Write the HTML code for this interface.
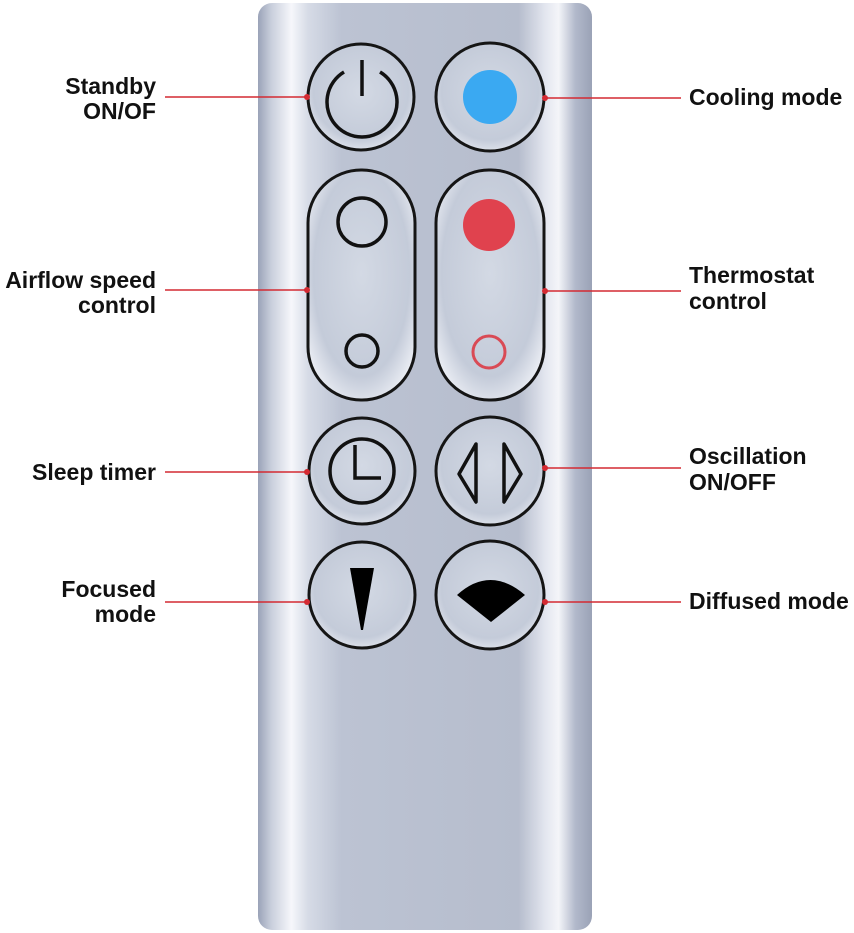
<!DOCTYPE html>
<html><head><meta charset="utf-8"><style>
html,body{margin:0;padding:0;background:#fff;}
svg{display:block}
text{font-family:"Liberation Sans",sans-serif;font-weight:bold;font-size:23px;fill:#111;}
</style></head><body>
<svg width="854" height="933" viewBox="0 0 854 933" xmlns="http://www.w3.org/2000/svg">
<defs>
<linearGradient id="body" x1="0" x2="1" y1="0" y2="0">
<stop offset="0" stop-color="#9aa3b8"/>
<stop offset="0.04" stop-color="#c9cfdc"/>
<stop offset="0.1" stop-color="#f6f7fb"/>
<stop offset="0.15" stop-color="#d6dbe6"/>
<stop offset="0.25" stop-color="#bcc3d3"/>
<stop offset="0.5" stop-color="#b9c0d0"/>
<stop offset="0.78" stop-color="#b6bdcd"/>
<stop offset="0.86" stop-color="#e3e6ef"/>
<stop offset="0.9" stop-color="#f4f5f9"/>
<stop offset="0.95" stop-color="#b2b9cb"/>
<stop offset="1" stop-color="#9aa2b6"/>
</linearGradient>
<radialGradient id="btn" cx="0.5" cy="0.45" r="0.6">
<stop offset="0" stop-color="#d3d9e4"/>
<stop offset="0.75" stop-color="#c4cbd9"/>
<stop offset="1" stop-color="#e8ebf2"/>
</radialGradient>
</defs>
<rect x="258" y="3" width="334" height="927" rx="14" fill="url(#body)"/>
<g stroke="#151515" stroke-width="3" fill="url(#btn)">
<circle cx="361" cy="97" r="53"/>
<circle cx="490" cy="97" r="54"/>
<rect x="308" y="170" width="107" height="230" rx="53"/>
<rect x="436" y="170" width="108" height="230" rx="53"/>
<circle cx="362" cy="471" r="53"/>
<circle cx="490" cy="471" r="54"/>
<circle cx="362" cy="595" r="53"/>
<circle cx="490" cy="595" r="54"/>
</g>
<g fill="none" stroke="#111" stroke-width="3.5">
<path d="M344 72 A35 35 0 1 0 380 72"/>
<line x1="362" y1="60" x2="362" y2="96"/>
<circle cx="362" cy="222" r="24"/>
<circle cx="362" cy="351" r="16"/>
<circle cx="362" cy="471" r="32"/>
<polyline points="355,445 355,478 381,478"/>
<path d="M476 444 L459 474 L476 502 Z" stroke-linejoin="round"/>
<path d="M504 444 L521 474 L504 502 Z" stroke-linejoin="round"/>
</g>
<circle cx="490" cy="97" r="27" fill="#3aa9f2"/>
<circle cx="489" cy="225" r="26" fill="#e0424e"/>
<circle cx="489" cy="352" r="16" fill="none" stroke="#d94a55" stroke-width="3"/>
<polygon points="350,568 374,568 363,630 361,630" fill="#000"/>
<path d="M457 595 Q490 565 525 595 L491 622 Z" fill="#000"/>
<g stroke="#d42a32" stroke-width="1.6">
<line x1="165" y1="97" x2="307" y2="97"/>
<line x1="165" y1="290" x2="307" y2="290"/>
<line x1="165" y1="472" x2="307" y2="472"/>
<line x1="165" y1="602" x2="307" y2="602"/>
<line x1="545" y1="98" x2="681" y2="98"/>
<line x1="545" y1="291" x2="681" y2="291"/>
<line x1="545" y1="468" x2="681" y2="468"/>
<line x1="545" y1="602" x2="681" y2="602"/>
</g>
<g fill="#d42a32">
<circle cx="307" cy="97" r="3"/><circle cx="307" cy="290" r="3"/>
<circle cx="307" cy="472" r="3"/><circle cx="307" cy="602" r="3"/>
<circle cx="545" cy="98" r="3"/><circle cx="545" cy="291" r="3"/>
<circle cx="545" cy="468" r="3"/><circle cx="545" cy="602" r="3"/>
</g>
<g text-anchor="end">
<text x="156" y="94">Standby</text>
<text x="156" y="119">ON/OF</text>
<text x="156" y="288">Airflow speed</text>
<text x="156" y="313">control</text>
<text x="156" y="480">Sleep timer</text>
<text x="156" y="597">Focused</text>
<text x="156" y="622">mode</text>
</g>
<g>
<text x="689" y="105">Cooling mode</text>
<text x="689" y="283">Thermostat</text>
<text x="689" y="309">control</text>
<text x="689" y="464">Oscillation</text>
<text x="689" y="490">ON/OFF</text>
<text x="689" y="609">Diffused mode</text>
</g>
</svg>
</body></html>
